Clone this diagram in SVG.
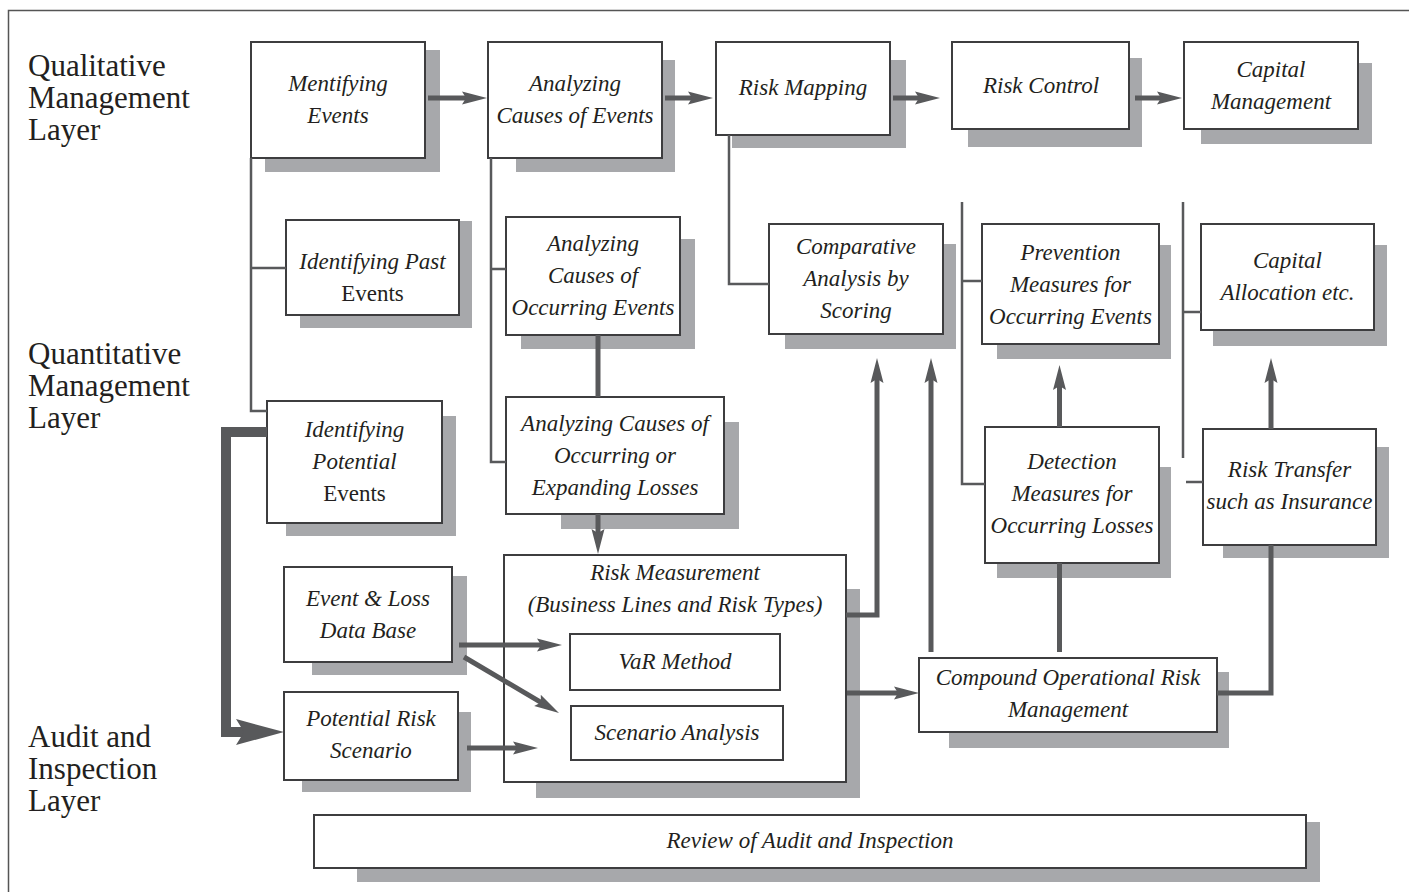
<svg xmlns="http://www.w3.org/2000/svg" width="1409" height="892" viewBox="0 0 1409 892">
<style>
.sh{fill:#a7a8ab}
.bx{fill:#fff;stroke:#3d3d3f;stroke-width:2}
.t{font-family:"Liberation Serif","Times New Roman",serif;font-size:23px;font-style:italic;fill:#231f20;text-anchor:middle}
.r{font-style:normal}
.lay{font-family:"Liberation Serif","Times New Roman",serif;font-size:31px;fill:#231f20}
.thin{fill:none;stroke:#58595b;stroke-width:2.5}
.thick{fill:none;stroke:#58595b;stroke-width:5}
.heavy{fill:none;stroke:#58595b;stroke-width:10}
.frame{fill:none;stroke:#555;stroke-width:1.5}
</style>
<defs>
<marker id="ah" markerUnits="userSpaceOnUse" markerWidth="26" markerHeight="16" viewBox="0 0 26 16" refX="7" refY="8" orient="auto">
<path d="M0,1.5 L25,8 L0,14.5 L4,8 Z" fill="#58595b"/>
</marker>
<marker id="ahBig" markerUnits="userSpaceOnUse" markerWidth="50" markerHeight="30" viewBox="0 0 50 30" refX="14" refY="15" orient="auto">
<path d="M0,2 L48,15 L0,28 L8,15 Z" fill="#58595b"/>
</marker>
</defs>
<rect width="1409" height="892" fill="#fff"/>
<path class="frame" d="M8.5,900 V10.5 H1420"/>

<g id="layers">
<text class="lay" x="28" y="76">Qualitative</text>
<text class="lay" x="28" y="108">Management</text>
<text class="lay" x="28" y="140">Layer</text>
<text class="lay" x="28" y="364">Quantitative</text>
<text class="lay" x="28" y="396">Management</text>
<text class="lay" x="28" y="428">Layer</text>
<text class="lay" x="28" y="747">Audit and</text>
<text class="lay" x="28" y="779">Inspection</text>
<text class="lay" x="28" y="811">Layer</text>
</g>

<g id="n-mentifying">
<rect class="sh" x="265" y="50" width="175" height="122"/>
<rect class="bx" x="251" y="42" width="174" height="116"/>
<text class="t" x="338" y="91">Mentifying</text>
<text class="t" x="338" y="123">Events</text>
</g>
<g id="n-analyzing-causes">
<rect class="sh" x="516" y="60" width="159" height="112"/>
<rect class="bx" x="488" y="42" width="174" height="116"/>
<text class="t" x="575" y="91">Analyzing</text>
<text class="t" x="575" y="123">Causes of Events</text>
</g>
<g id="n-risk-mapping">
<rect class="sh" x="732" y="60" width="174" height="88"/>
<rect class="bx" x="716" y="42" width="174" height="93"/>
<text class="t" x="803" y="95">Risk Mapping</text>
</g>
<g id="n-risk-control">
<rect class="sh" x="968" y="58" width="174" height="89"/>
<rect class="bx" x="952" y="42" width="177" height="87"/>
<text class="t" x="1041" y="93">Risk Control</text>
</g>
<g id="n-capital-management">
<rect class="sh" x="1201" y="63" width="171" height="81"/>
<rect class="bx" x="1184" y="42" width="174" height="87"/>
<text class="t" x="1271" y="77">Capital</text>
<text class="t" x="1271" y="109">Management</text>
</g>
<g id="n-identifying-past">
<rect class="sh" x="300" y="221" width="172" height="107"/>
<rect class="bx" x="286" y="220" width="173" height="95"/>
<text class="t" x="372.5" y="269">Identifying Past</text>
<text class="t r" x="372.5" y="301">Events</text>
</g>
<g id="n-analyzing-occurring-events">
<rect class="sh" x="521" y="239" width="174" height="110"/>
<rect class="bx" x="506" y="217" width="174" height="118"/>
<text class="t" x="593" y="251">Analyzing</text>
<text class="t" x="593" y="283">Causes of</text>
<text class="t" x="593" y="315">Occurring Events</text>
</g>
<g id="n-comparative">
<rect class="sh" x="785" y="244" width="171" height="105"/>
<rect class="bx" x="769" y="224" width="174" height="110"/>
<text class="t" x="856" y="254">Comparative</text>
<text class="t" x="856" y="286">Analysis by</text>
<text class="t" x="856" y="318">Scoring</text>
</g>
<g id="n-prevention">
<rect class="sh" x="997" y="245" width="174" height="114"/>
<rect class="bx" x="982" y="224" width="177" height="120"/>
<text class="t" x="1070.5" y="260">Prevention</text>
<text class="t" x="1070.5" y="292">Measures for</text>
<text class="t" x="1070.5" y="324">Occurring Events</text>
</g>
<g id="n-capital-allocation">
<rect class="sh" x="1213" y="245" width="174" height="101"/>
<rect class="bx" x="1201" y="224" width="173" height="106"/>
<text class="t" x="1287.5" y="268">Capital</text>
<text class="t" x="1287.5" y="300">Allocation etc.</text>
</g>
<g id="n-identifying-potential">
<rect class="sh" x="286" y="416" width="170" height="120"/>
<rect class="bx" x="267" y="401" width="175" height="122"/>
<text class="t" x="354.5" y="437">Identifying</text>
<text class="t" x="354.5" y="469">Potential</text>
<text class="t r" x="354.5" y="501">Events</text>
</g>
<g id="n-expanding-losses">
<rect class="sh" x="561" y="422" width="178" height="107"/>
<rect class="bx" x="506" y="397" width="218" height="117"/>
<text class="t" x="615" y="431">Analyzing Causes of</text>
<text class="t" x="615" y="463">Occurring or</text>
<text class="t" x="615" y="495">Expanding Losses</text>
</g>
<g id="n-detection">
<rect class="sh" x="997" y="467" width="174" height="111"/>
<rect class="bx" x="985" y="427" width="174" height="136"/>
<text class="t" x="1072" y="469">Detection</text>
<text class="t" x="1072" y="501">Measures for</text>
<text class="t" x="1072" y="533">Occurring Losses</text>
</g>
<g id="n-risk-transfer">
<rect class="sh" x="1223" y="447" width="166" height="111"/>
<rect class="bx" x="1203" y="429" width="173" height="116"/>
<text class="t" x="1289.5" y="477">Risk Transfer</text>
<text class="t" x="1289.5" y="509">such as Insurance</text>
</g>
<g id="n-event-loss-db">
<rect class="sh" x="312" y="576" width="155" height="99"/>
<rect class="bx" x="284" y="567" width="168" height="95"/>
<text class="t" x="368" y="606">Event &amp; Loss</text>
<text class="t" x="368" y="638">Data Base</text>
</g>
<g id="n-potential-risk-scenario">
<rect class="sh" x="302" y="712" width="169" height="80"/>
<rect class="bx" x="284" y="692" width="174" height="88"/>
<text class="t" x="371" y="726">Potential Risk</text>
<text class="t" x="371" y="758">Scenario</text>
</g>
<g id="n-risk-measurement">
<rect class="sh" x="536" y="589" width="324" height="209"/>
<rect class="bx" x="504" y="555" width="342" height="227"/>
<text class="t" x="675" y="580">Risk Measurement</text>
<text class="t" x="675" y="612">(Business Lines and Risk Types)</text>
</g>
<g id="n-var">
<rect class="bx" x="570" y="634" width="210" height="56"/>
<text class="t" x="675" y="669">VaR Method</text>
</g>
<g id="n-scenario-analysis">
<rect class="bx" x="571" y="706" width="212" height="54"/>
<text class="t" x="677" y="740">Scenario Analysis</text>
</g>
<g id="n-compound">
<rect class="sh" x="949" y="672" width="280" height="76"/>
<rect class="bx" x="919" y="658" width="298" height="74"/>
<text class="t" x="1068" y="685">Compound Operational Risk</text>
<text class="t" x="1068" y="717">Management</text>
</g>
<g id="n-review">
<rect class="sh" x="357" y="822" width="963" height="60"/>
<rect class="bx" x="314" y="815" width="992" height="53"/>
<text class="t" x="810" y="848">Review of Audit and Inspection</text>
</g>

<g id="connectors">
<path class="thin" d="M251,158 V411 H267 M251,268 H286"/>
<path class="thin" d="M491,158 V462 H506 M491,269 H506"/>
<path class="thin" d="M729,135 V284 H769"/>
<path class="thin" d="M962,202 V484 H985 M962,281 H982"/>
<path class="thin" d="M1183,202 V458 M1183,312 H1201 M1186,482 H1203"/>
<path class="thick" d="M428,98 H469" marker-end="url(#ah)"/>
<path class="thick" d="M665,98 H695" marker-end="url(#ah)"/>
<path class="thick" d="M893,98 H922" marker-end="url(#ah)"/>
<path class="thick" d="M1135,98 H1164" marker-end="url(#ah)"/>
<path class="thick" d="M598,335 V397"/>
<path class="thick" d="M598,514 V536" marker-end="url(#ah)"/>
<path class="thick" d="M846,615 H877 V376" marker-end="url(#ah)"/>
<path class="thick" d="M931,652 V376" marker-end="url(#ah)"/>
<path class="thick" d="M1059.5,652 V563"/>
<path class="thick" d="M1059.5,427 V383" marker-end="url(#ah)"/>
<path class="thick" d="M1217,693 H1271 V545"/>
<path class="thick" d="M1271,429 V376" marker-end="url(#ah)"/>
<path class="thick" d="M847,693 H901" marker-end="url(#ah)"/>
<path class="thick" d="M459,645 H544" marker-end="url(#ah)"/>
<path class="thick" d="M464,657 L543.5,703.9" marker-end="url(#ah)"/>
<path class="thick" d="M467,748 H520" marker-end="url(#ah)"/>
<path class="heavy" d="M267,432 H226 V732 H250" marker-end="url(#ahBig)"/>
</g>
</svg>
